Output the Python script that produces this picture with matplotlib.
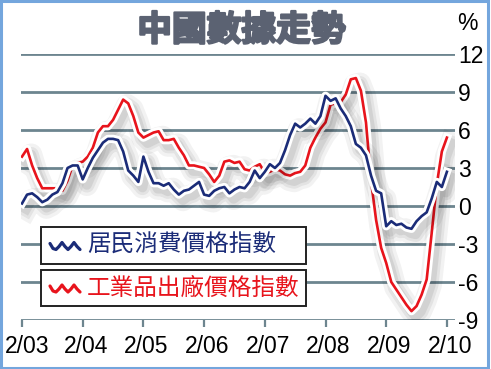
import matplotlib
matplotlib.use("Agg")
import matplotlib.pyplot as plt
import matplotlib.patheffects as pe
import matplotlib.transforms as mtransforms
from matplotlib.patches import Rectangle
from matplotlib.lines import Line2D

# ---- data (monthly, Feb 2003 .. Feb 2010, YoY %) ----
cpi = [0.2, 0.9, 1.0, 0.7, 0.3, 0.5, 0.9, 1.1, 1.8, 3.0, 3.2,
       3.2, 2.1, 3.0, 3.8, 4.4, 5.0, 5.3, 5.3, 5.2, 4.3, 2.8, 2.4,
       1.9, 3.9, 2.7, 1.8, 1.8, 1.6, 1.8, 1.3, 0.9, 1.2, 1.3, 1.6,
       1.9, 0.9, 0.8, 1.2, 1.4, 1.5, 1.0, 1.3, 1.5, 1.4, 1.9, 2.8,
       2.2, 2.7, 3.3, 3.0, 3.4, 4.4, 5.6, 6.5, 6.2, 6.5, 6.9, 6.5,
       7.1, 8.7, 8.3, 8.5, 7.7, 7.1, 6.3, 4.9, 4.6, 4.0, 2.4, 1.2,
       1.0, -1.6, -1.2, -1.5, -1.4, -1.7, -1.8, -1.2, -0.8, -0.5, 0.6, 1.9,
       1.5, 2.7]
ppi = [3.9, 4.5, 3.2, 2.2, 1.4, 1.4, 1.4, 1.4, 1.2, 2.0, 3.2,
       3.4, 3.5, 3.9, 4.6, 5.8, 6.3, 6.3, 6.8, 7.6, 8.4, 8.1, 7.1,
       5.8, 5.4, 5.6, 5.8, 5.9, 5.2, 5.2, 5.3, 4.6, 4.0, 3.2, 3.2,
       3.1, 3.0, 2.5, 1.9, 2.4, 3.5, 3.6, 3.4, 3.5, 2.9, 2.8, 3.1,
       3.3, 2.6, 2.7, 2.9, 2.8, 2.5, 2.4, 2.6, 2.7, 3.2, 4.6, 5.4,
       6.1, 6.6, 8.0, 8.1, 8.2, 8.8, 10.0, 10.1, 9.1, 6.6, 2.0, -1.1,
       -3.3, -4.5, -6.0, -6.6, -7.2, -7.8, -8.3, -7.9, -7.0, -5.8, -2.1, 1.7,
       4.3, 5.4]
months = list(range(len(cpi)))
xtick_pos = [0, 12, 24, 36, 48, 60, 72, 84]
xtick_labels = ["2/03", "2/04", "2/05", "2/06", "2/07", "2/08", "2/09", "2/10"]
ytick_vals = [-9, -6, -3, 0, 3, 6, 9, 12]
title = "中國數據走勢"
legend_labels = ["居民消費價格指數", "工業品出廠價格指數"]

NAVY = "#1b2c78"
RED = "#e8141c"
GRID = "#6d858f"
CJK = ["Noto Sans CJK TC", "DejaVu Sans"]
LAT = ["Liberation Sans", "DejaVu Sans"]

W, H = 491, 369
fig = plt.figure(figsize=(W / 100, H / 100), dpi=100)
fig.patch.set_facecolor("white")

def fx(px):
    return px / W

def fy(py):
    return 1 - py / H

ax = fig.add_axes([fx(21), fy(320), fx(455) - fx(21), fy(54) - fy(320)])
ax.set_xlim(-0.2, 85.6)
ax.set_ylim(-9, 12)
for s in ax.spines.values():
    s.set_visible(False)
ax.set_facecolor("none")

for v in ytick_vals:
    ax.axhline(v, color=GRID, lw=2.0, zorder=1)

ax.set_yticks(ytick_vals)
ax.set_yticklabels([str(v) for v in ytick_vals], family=LAT, fontsize=16.5)
ax.yaxis.tick_right()
ax.tick_params(axis="y", length=0, pad=2)

ax.set_xticks(xtick_pos)
ax.set_xticklabels(xtick_labels, family=LAT, fontsize=16.5)
ax.tick_params(axis="x", direction="out", length=5, width=1.6, color=GRID, pad=5.5)
for i, lab in enumerate(ax.get_xticklabels()):
    dx = 5 if i == 0 else 3
    lab.set_transform(lab.get_transform() +
                      mtransforms.ScaledTranslation(dx / 100, 0, fig.dpi_scale_trans))

def effects():
    return [
        pe.SimpleLineShadow(offset=(3, -4), shadow_color="black", alpha=0.05, linewidth=16),
        pe.SimpleLineShadow(offset=(3, -4), shadow_color="black", alpha=0.06, linewidth=11),
        pe.SimpleLineShadow(offset=(3, -4), shadow_color="black", alpha=0.07, linewidth=7),
        pe.Stroke(linewidth=6.0, foreground="white"),
        pe.Normal(),
    ]

ax.plot(months, ppi, color=RED, lw=1.9, zorder=3, solid_joinstyle="round",
        path_effects=effects())
ax.plot(months, cpi, color=NAVY, lw=1.9, zorder=4, solid_joinstyle="round",
        path_effects=effects())

# title
fig.text(fx(241.5), fy(30), title, ha="center", va="center", fontsize=25,
         weight="black", color="#5b6272", family=CJK,
         path_effects=[pe.Stroke(linewidth=1.6, foreground="#5b6272"), pe.Normal()])
fig.text(fx(467), fy(23), "%", ha="center", va="center", fontsize=16.5, family=LAT)

# legend boxes
boxes = [(227.5, 263.5), (270, 306)]
colors = [NAVY, RED]
icon = [(0, 3), (3, -2), (6, -3), (9, 0), (12, 4), (15, 0), (18, -3), (21, 0),
        (24, 4), (27, 0), (30, -3)]
for (top, bot), lab, col in zip(boxes, legend_labels, colors):
    fig.patches.append(Rectangle((fx(40.7), fy(bot)), fx(306) - fx(40.7), fy(top) - fy(bot),
                                 transform=fig.transFigure, facecolor="white",
                                 edgecolor="#222222", lw=1.4, zorder=5))
    cy = (top + bot) / 2 + 1
    xs = [fx(50 + p[0]) for p in icon]
    ys = [fy(cy - p[1]) for p in icon]
    fig.lines.append(Line2D(xs, ys, transform=fig.transFigure, color=col, lw=2.3,
                            solid_joinstyle="round", solid_capstyle="round", zorder=6))
    fig.text(fx(87), fy(cy - 1), lab, ha="left", va="center", fontsize=17,
             color=col, family=CJK, zorder=6)

# border
fig.patches.append(Rectangle((fx(1), fy(H - 1)), fx(W - 3) - fx(1), fy(1) - fy(H - 1),
                             transform=fig.transFigure, facecolor="none",
                             edgecolor="#74a6dd", lw=2.2, zorder=10))

fig.savefig("out.png", dpi=100, facecolor="white")
